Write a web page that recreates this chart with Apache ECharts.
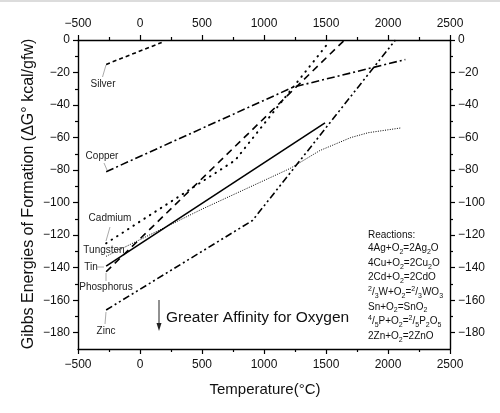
<!DOCTYPE html>
<html><head><meta charset="utf-8">
<script src="https://cdn.jsdelivr.net/npm/echarts@6/dist/echarts.min.js"></script>
<style>html,body{margin:0;padding:0;background:#fff}#c{width:500px;height:413px}</style>
</head><body><div id="c"></div>
<script>
// ---- data (temperature °C, ΔG° kcal/gfw) ----
const xTicks = [-500, 0, 500, 1000, 1500, 2000, 2500];
const yTicks = [0, -20, -40, -60, -80, -100, -120, -140, -160, -180];
const yMinorTicks = [-10, -30, -50, -70, -90, -110, -130, -150, -170];
const silver = [[-273, -15], [175, -1.5]];
const copper = [[-273, -81], [1235, -29], [2140, -12]];
const cadmium = [[-273, -125], [767, -74], [1506, -3]];
const tungsten = [[-273, -133], [500, -104], [1210, -79], [1450, -68], [1700, -60], [1841, -57], [2110, -54]];
const tin = [[-273, -139], [1492, -51]];
const phosphorus = [[-273, -142.5], [1650, 0]];
const zinc = [[-273, -166], [907, -111], [2060, 0]];
const elementNames = ['Silver', 'Copper', 'Cadmium', 'Tungsten', 'Tin', 'Phosphorus', 'Zinc'];
const reactions = ['4Ag+O_2=2Ag_2O', '4Cu+O_2=2Cu_2O', '2Cd+O_2=2CdO', '^2/_3W+O_2=^2/_3WO_3',
  'Sn+O_2=SnO_2', '^4/_5P+O_2=^2/_5P_2O_5', '2Zn+O_2=2ZnO'];

const chart = echarts.init(document.getElementById('c'), null, {renderer: 'canvas'});
const FONT = 'Liberation Sans, Arial, Helvetica, sans-serif';
const minus = v => String(v).replace('-', '\u2212');
const axisLineStyle = {color: '#000', width: 1.4};

function xAx(pos) {
  return {
    type: 'value', position: pos, min: -500, max: 2500, interval: 500,
    axisLine: {show: true, onZero: false, lineStyle: axisLineStyle},
    axisTick: {show: true, length: 5, lineStyle: {color: '#000', width: 1.2}},
    minorTick: {show: true, splitNumber: 2, length: 3, lineStyle: {color: '#000', width: 1.2}},
    splitLine: {show: false}, minorSplitLine: {show: false},
    axisLabel: {fontSize: 12, color: '#111', fontFamily: FONT, margin: 10, formatter: minus}
  };
}
function yAx(pos, minor) {
  return {
    type: 'value', position: pos, min: -190, max: 0,
    axisLine: {show: !minor, onZero: false, lineStyle: axisLineStyle},
    axisTick: {show: true, length: minor ? 3 : 5, customValues: minor ? yMinorTicks : yTicks,
      lineStyle: {color: '#000', width: 1.2}},
    splitLine: {show: false},
    axisLabel: minor ? {show: false} :
      {fontSize: 12, color: '#111', fontFamily: FONT, margin: 8, customValues: yTicks, formatter: minus}
  };
}

function line(name, data, width, dash, cap) {
  return {
    name: name, type: 'line', data: data, showSymbol: false, symbol: 'none',
    xAxisIndex: 0, yAxisIndex: 0, animation: false, silent: true,
    lineStyle: {color: '#000', width: width, type: dash, cap: cap || 'butt'}
  };
}

function rich(src) {
  let out = '';
  for (let i = 0; i < src.length; i++) {
    const c = src[i];
    if (c === '_') { out += '{s|' + src[++i] + '}'; }
    else if (c === '^') { out += '{p|' + src[++i] + '}'; }
    else { out += '{n|' + c + '}'; }
  }
  return out;
}
const richStyles = {
  n: {fontSize: 10, lineHeight: 14, fontFamily: FONT, fill: '#111'},
  s: {fontSize: 7, lineHeight: 7, verticalAlign: 'bottom', fontFamily: FONT, fill: '#111'},
  p: {fontSize: 7, lineHeight: 7, verticalAlign: 'top', fontFamily: FONT, fill: '#111'}
};

const graphics = [];
// top thin gray border
graphics.push({type: 'rect', shape: {x: 0, y: 0, width: 500, height: 2}, style: {fill: '#dcdcdc'}, silent: true});
// axis titles
graphics.push({type: 'text', x: 29, y: 194, rotation: Math.PI / 2,
  style: {text: 'Gibbs Energies of Formation (\u0394G\u00b0 kcal/gfw)', align: 'center', verticalAlign: 'middle',
    fontSize: 16, fontFamily: FONT, fill: '#111'}});
graphics.push({type: 'text', x: 265, y: 390,
  style: {text: 'Temperature(\u00b0C)', align: 'center', verticalAlign: 'middle', fontSize: 15, fontFamily: FONT, fill: '#111'}});
// greater affinity annotation
graphics.push({type: 'text', x: 166, y: 318,
  style: {text: 'Greater Affinity for Oxygen', align: 'left', verticalAlign: 'middle', fontSize: 15.5, fontFamily: FONT, fill: '#111'}});
graphics.push({type: 'line', shape: {x1: 159, y1: 300, x2: 159, y2: 326}, style: {stroke: '#222', lineWidth: 1}});
graphics.push({type: 'polygon', shape: {points: [[156.5, 323], [161.5, 323], [159, 331]]}, style: {fill: '#222'}});
// element labels + pointers
const labelPos = [[103, 84], [102, 156], [110, 218], [104, 250], [91, 267], [106, 287], [106, 331]];
const pointers = [[[102.5, 77], [106, 65]], [[104, 163], [107, 170]], [[110, 227], [106, 241]], null,
  [[97, 267], [104, 267]], [[106, 281], [106, 273]], [[105, 324], [106, 312]]];
elementNames.forEach((n, i) => {
  graphics.push({type: 'text', x: labelPos[i][0], y: labelPos[i][1],
    style: {text: n, align: 'center', verticalAlign: 'middle', fontSize: 10, fontFamily: FONT, fill: '#222'}});
  const p = pointers[i];
  if (p) graphics.push({type: 'line', shape: {x1: p[0][0], y1: p[0][1], x2: p[1][0], y2: p[1][1]},
    style: {stroke: '#aaa', lineWidth: 1}});
});
// reactions block
graphics.push({type: 'text', x: 368, y: 235,
  style: {text: 'Reactions:', align: 'left', verticalAlign: 'middle', fontSize: 10, fontFamily: FONT, fill: '#111'}});
reactions.forEach((r, i) => {
  graphics.push({type: 'text', x: 368, y: 248.5 + i * 14.6 - 7,
    style: {text: rich(r), rich: richStyles, align: 'left', verticalAlign: 'top'}});
});

chart.setOption({
  animation: false,
  backgroundColor: '#fff',
  grid: {left: 78, right: 50, top: 40, bottom: 64, containLabel: false},
  xAxis: [xAx('bottom'), xAx('top')],
  yAxis: [yAx('left', false), yAx('right', false), yAx('left', true), yAx('right', true)],
  series: [
    line('Silver', silver, 1.6, [4, 3]),
    line('Copper', copper, 1.6, [8, 3, 2, 3]),
    line('Cadmium', cadmium, 2, [0.5, 6], 'round'),
    line('Tungsten', tungsten, 1, [1, 1.4]),
    line('Tin', tin, 1.6, 'solid'),
    line('Phosphorus', phosphorus, 1.6, [7, 5]),
    line('Zinc', zinc, 1.6, [7, 3, 2, 3, 2, 3])
  ],
  graphic: graphics
});
</script></body></html>
